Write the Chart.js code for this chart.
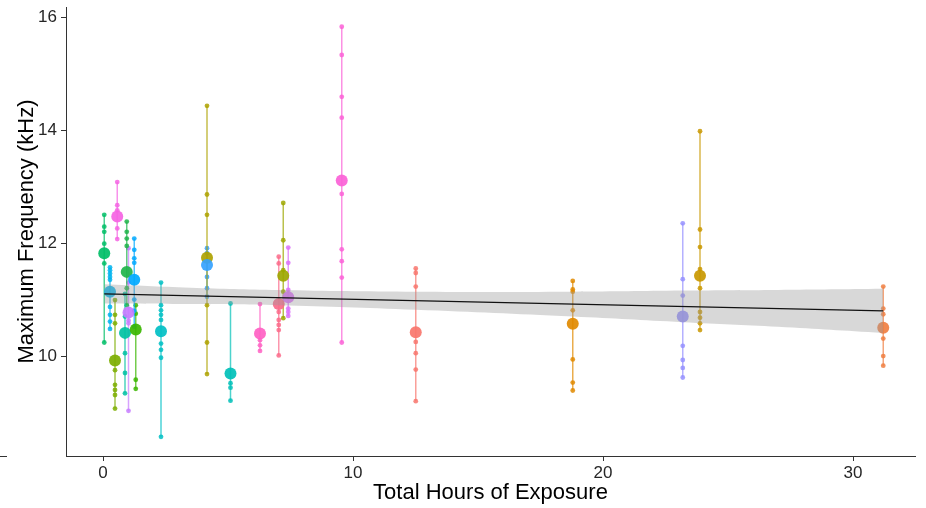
<!DOCTYPE html>
<html><head><meta charset="utf-8">
<script src="https://cdn.jsdelivr.net/npm/chart.js@4"></script>
<style>html,body{margin:0;padding:0;background:#fff}#wrap{width:926px;height:508px;position:relative}</style>
</head><body><div id="wrap"><canvas id="c"></canvas></div>
<script>
const groupHours = [0.05, 0.28, 0.48, 0.57, 0.88, 0.95, 1.02, 1.25, 1.31, 2.32, 4.16, 4.16, 5.10, 6.28, 7.03, 7.21, 7.41, 9.55, 12.51, 18.79, 23.19, 23.88, 31.21];
const groupMeans = [11.82, 11.14, 9.92, 12.47, 10.41, 11.49, 10.77, 11.35, 10.47, 10.44, 11.74, 11.61, 9.69, 10.40, 10.92, 11.42, 11.04, 13.11, 10.42, 10.57, 10.70, 11.42, 10.50];
const groupValues = [
 [12.50, 12.29, 12.20, 11.99, 11.64, 10.24],
 [11.57, 11.52, 11.46, 11.40, 11.35, 10.87, 10.73, 10.61, 10.48],
 [10.99, 10.73, 10.58, 9.75, 9.49, 9.40, 9.31, 9.07],
 [13.08, 12.67, 12.58, 12.26, 12.07],
 [11.10, 10.70, 10.05, 9.70, 9.34],
 [12.38, 12.20, 12.08, 11.95, 11.20, 10.90],
 [11.91, 11.30, 10.63, 10.58, 9.03],
 [12.08, 11.88, 11.73, 11.65, 11.00, 10.80, 10.52],
 [10.90, 10.75, 9.58, 9.42],
 [11.30, 10.90, 10.81, 10.73, 10.64, 10.22, 10.11, 9.97, 8.57],
 [14.43, 12.86, 12.50, 10.90, 10.24, 9.68],
 [11.91, 11.82, 11.40, 11.20, 11.05],
 [10.93, 9.52, 9.44, 9.21],
 [10.92, 10.28, 10.19, 10.09],
 [11.76, 11.64, 10.78, 10.64, 10.55, 10.46, 10.01],
 [12.71, 12.05, 11.52, 11.14, 10.67],
 [11.92, 11.65, 11.17, 10.84, 10.78, 10.71],
 [15.83, 15.33, 14.59, 14.22, 12.87, 11.89, 11.68, 11.39, 10.24],
 [11.55, 11.47, 11.23, 10.25, 10.05, 9.76, 9.20],
 [11.33, 11.18, 11.14, 10.81, 9.94, 9.53, 9.39],
 [12.35, 11.36, 11.07, 10.18, 9.93, 9.79, 9.62],
 [13.98, 12.24, 11.93, 11.54, 11.20, 10.78, 10.68, 10.58, 10.46],
 [11.23, 10.84, 10.74, 10.31, 10.00, 9.83]
];
const groupColors = ["#00BE67","#00B4EF","#7CAE00","#F564E3","#00C1A3","#1FB44A","#C77CFF","#00A9FF","#39B600","#00BFC4","#AEA200","#35A2FF","#00C0B8","#FF61C3","#FB6A8A","#9DA700","#DC71FA","#FB61D7","#F8766D","#E18A00","#9590FF","#C99800","#F07F42"];

const fitX = [0.05, 31.21];
const fitY = [11.10, 10.80];
const bandX = [0.05, 3.5, 7, 12.5, 18.8, 23.2, 27, 31.21];
const bandUpper = [11.27, 11.21, 11.17, 11.14, 11.14, 11.16, 11.17, 11.19];
const bandLower = [10.93, 10.92, 10.90, 10.82, 10.70, 10.60, 10.52, 10.41];

const xTicks = [0, 10, 20, 30];
const yTicks = [10, 12, 14, 16];

function hexA(h, a) {
  const n = parseInt(h.slice(1), 16);
  return `rgba(${(n>>16)&255},${(n>>8)&255},${n&255},${a})`;
}

const datasets = [];
datasets.push({
  data: fitX.map((x, i) => ({x, y: fitY[i]})),
  borderColor: '#111', borderWidth: 1.3, pointRadius: 0, fill: false, order: -2
});
datasets.push({
  data: bandX.map((x, i) => ({x, y: bandUpper[i]})),
  borderColor: 'rgba(0,0,0,0)', borderWidth: 0, pointRadius: 0,
  fill: '+1', backgroundColor: 'rgba(153,153,153,0.38)', tension: 0.4, order: -1
});
datasets.push({
  data: bandX.map((x, i) => ({x, y: bandLower[i]})),
  borderColor: 'rgba(0,0,0,0)', borderWidth: 0, pointRadius: 0, fill: false, tension: 0.4, order: 0
});
groupHours.forEach((h, g) => {
  const vals = groupValues[g].slice().sort((a, b) => b - a);
  datasets.push({
    data: vals.map(v => ({x: h, y: v})),
    borderColor: hexA(groupColors[g], 0.7), borderWidth: 1.5,
    pointRadius: 2.4, pointBorderWidth: 0,
    pointBackgroundColor: hexA(groupColors[g], 0.85),
    fill: false, order: 10
  });
});
datasets.push({
  data: groupHours.map((h, g) => ({x: h, y: groupMeans[g]})),
  showLine: false, pointRadius: 6, pointBorderWidth: 0,
  pointBackgroundColor: groupColors.map(c => hexA(c, 0.92)), order: 5
});

const stray = {
  id: 'stray',
  afterDraw(chart) {
    const ctx = chart.ctx;
    ctx.save();
    ctx.strokeStyle = '#333'; ctx.lineWidth = 1;
    ctx.beginPath();
    ctx.moveTo(0, chart.chartArea.bottom + 0.5);
    ctx.lineTo(7, chart.chartArea.bottom + 0.5);
    ctx.stroke();
    ctx.restore();
  }
};

const tickFont = {family: 'Liberation Sans, Arial, sans-serif', size: 17};
const titleFont = {family: 'Liberation Sans, Arial, sans-serif', size: 22};

new Chart(document.getElementById('c'), {
  type: 'line',
  data: {datasets},
  plugins: [stray],
  options: {
    responsive: true, maintainAspectRatio: false, animation: false,
    layout: {padding: {top: 7, right: 11, left: 0, bottom: 0}},
    plugins: {legend: {display: false}, tooltip: {enabled: false}},
    scales: {
      x: {
        type: 'linear', min: -1.48, max: 32.48,
        afterBuildTicks: s => { s.ticks = xTicks.map(v => ({value: v})); },
        afterFit: s => { s.height = 52; s.paddingLeft = 0; s.paddingRight = 0; },
        ticks: {font: tickFont, color: '#262626', padding: 2, maxRotation: 0, autoSkip: false},
        grid: {drawOnChartArea: false, drawTicks: true, tickLength: 5, color: '#333', lineWidth: 1},
        border: {display: true, color: '#333', width: 1},
        title: {display: true, text: 'Total Hours of Exposure', font: titleFont, color: '#000', padding: {top: 0, bottom: 2}}
      },
      y: {
        type: 'linear', min: 8.23, max: 16.18,
        afterBuildTicks: s => { s.ticks = yTicks.map(v => ({value: v})); },
        afterFit: s => { s.width = 66; s.paddingTop = 0; s.paddingBottom = 0; },
        ticks: {font: tickFont, color: '#262626', padding: 4},
        grid: {drawOnChartArea: false, drawTicks: true, tickLength: 5, color: '#333', lineWidth: 1},
        border: {display: true, color: '#333', width: 1},
        title: {display: true, text: 'Maximum Frequency (kHz)', font: titleFont, color: '#000', padding: {top: 14, bottom: 0}}
      }
    }
  }
});
</script>
</body></html>
